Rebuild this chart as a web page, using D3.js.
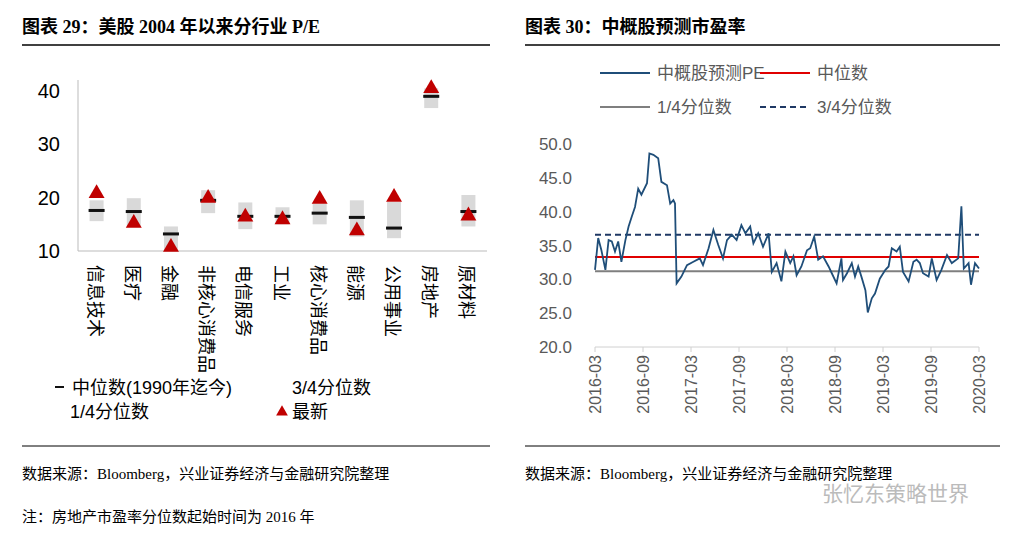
<!DOCTYPE html>
<html><head><meta charset="utf-8">
<script src="https://cdn.jsdelivr.net/npm/d3@7"></script>
<style>body{margin:0;background:#fff}</style>
</head><body><svg id="c" width="1031" height="539"></svg>
<script>
// left chart data
var sectors = ["信息技术","医疗","金融","非核心消费品","电信服务","工业","核心消费品","能源","公用事业","房地产","原材料"];
var median = [17.6,17.4,13.2,19.5,16.5,16.5,17.1,16.3,14.3,39.0,17.4];
var q1 = [15.6,14.5,10.0,17.1,14.1,15.0,15.0,12.7,12.4,36.8,14.6];
var q3 = [19.5,19.9,14.6,21.4,19.1,18.2,18.9,19.5,19.2,40.5,20.5];
var latest = [20.8,15.2,10.7,19.9,16.4,15.9,19.7,13.8,20.1,40.5,16.6];
var leftTicks = [10,20,30,40];

// right chart data (months since 2016-03)
var peMonths = [0,0.4,0.8,1.3,1.7,2.1,2.5,2.9,3.3,3.8,4.2,4.6,5.0,5.4,5.8,6.5,6.8,7.3,7.9,8.3,9.0,9.4,9.8,10.0,10.2,10.8,11.5,12.3,13.1,13.5,14.2,14.8,15.4,16.0,16.5,17.1,17.7,18.3,18.8,19.4,19.8,20.4,21.0,21.7,22.1,22.7,23.3,23.8,24.4,24.8,25.2,25.8,26.5,26.9,27.4,27.9,28.5,29.2,29.6,30.2,30.8,31.0,31.5,32.1,32.5,32.9,33.3,33.8,34.1,34.6,35.0,35.6,36.3,36.7,37.1,37.7,38.1,38.5,39.2,39.8,40.2,40.6,41.0,41.7,42.1,42.7,43.3,44.0,44.6,45.4,45.8,46.1,46.7,47.0,47.5,48.0];
var peValues = [31.4,36.1,34.3,31.4,35.8,35.6,34.1,35.6,32.6,35.8,37.8,39.3,40.7,43.4,42.5,44.2,48.6,48.4,47.9,44.4,43.9,41.2,41.7,41.2,29.4,30.4,32.1,32.6,33.1,32.1,34.6,37.3,35.1,33.1,35.8,36.6,35.8,38.0,36.8,37.8,35.3,36.8,34.8,36.8,31.1,32.4,29.7,34.1,32.4,33.4,30.6,31.9,34.3,34.6,36.3,32.9,33.4,31.9,30.9,29.4,33.1,29.9,30.9,32.4,30.4,31.9,30.4,28.4,25.1,27.2,27.9,30.1,31.4,31.9,34.6,34.1,34.8,31.1,29.7,32.6,32.9,32.4,30.9,30.4,33.1,29.9,31.4,33.6,32.4,33.1,40.8,31.6,32.4,29.2,32.4,31.6];
var peMedian = 33.3, peQ1 = 31.2, peQ3 = 36.6;
var rightTicks = [20,25,30,35,40,45,50];
var dateLabels = ["2016-03","2016-09","2017-03","2017-09","2018-03","2018-09","2019-03","2019-09","2020-03"];

var svg = d3.select("#c");
var serif = "'Liberation Serif','Noto Sans CJK SC',serif";
var sans = "'Liberation Sans','Noto Sans CJK SC',sans-serif";

// titles & frame lines
svg.append("text").attr("x",22).attr("y",33).text("图表 29：美股 2004 年以来分行业 P/E")
  .style("font-family",serif).style("font-weight","bold").style("font-size","18px");
svg.append("text").attr("x",525).attr("y",33).text("图表 30：中概股预测市盈率")
  .style("font-family",serif).style("font-weight","bold").style("font-size","18px");
[[22,490],[525,1000]].forEach(function(s){
  svg.append("line").attr("x1",s[0]).attr("x2",s[1]).attr("y1",45).attr("y2",45).attr("stroke","#000").attr("stroke-width",1.3);
  svg.append("line").attr("x1",s[0]).attr("x2",s[1]).attr("y1",446).attr("y2",446).attr("stroke","#000").attr("stroke-width",1);
});
svg.append("text").attr("x",22).attr("y",479).text("数据来源：Bloomberg，兴业证券经济与金融研究院整理").style("font-family",serif).style("font-size","15px");
svg.append("text").attr("x",22).attr("y",522).text("注：房地产市盈率分位数起始时间为 2016 年").style("font-family",serif).style("font-size","15px");
svg.append("text").attr("x",525).attr("y",479).text("数据来源：Bloomberg，兴业证券经济与金融研究院整理").style("font-family",serif).style("font-size","15px");
svg.append("text").attr("x",822).attr("y",501).text("张忆东策略世界").style("font-family",sans).style("font-size","21px").style("fill","#bbb");

// ---- left chart
var xL = d3.scaleBand().domain(sectors).range([78,487]).paddingInner(0);
var yL = d3.scaleLinear().domain([10,40]).range([251,91]);
var gL = svg.append("g");
gL.append("line").attr("x1",78).attr("x2",78).attr("y1",80).attr("y2",251).attr("stroke","#bbb");
gL.append("line").attr("x1",78).attr("x2",487).attr("y1",251).attr("y2",251).attr("stroke","#bbb");
gL.selectAll(".yt").data(leftTicks).enter().append("text")
  .attr("x",60).attr("y",function(d){return yL(d)+7;}).attr("text-anchor","end")
  .text(function(d){return d;}).style("font-family",sans).style("font-size","20px");
var cx = function(i){return xL(sectors[i]) + xL.bandwidth()/2;};
gL.selectAll(".box").data(sectors).enter().append("rect")
  .attr("x",function(d,i){return cx(i)-7;}).attr("width",14)
  .attr("y",function(d,i){return yL(q3[i]);})
  .attr("height",function(d,i){return yL(q1[i])-yL(q3[i]);}).style("fill","#d9d9d9");
gL.selectAll(".med").data(sectors).enter().append("rect")
  .attr("x",function(d,i){return cx(i)-8;}).attr("width",16)
  .attr("y",function(d,i){return yL(median[i])-1.5;}).attr("height",3).style("fill","#111");
var tri = d3.symbol().type(d3.symbolTriangle).size(110);
gL.selectAll(".tri").data(sectors).enter().append("path").attr("d",tri)
  .attr("transform",function(d,i){return "translate("+cx(i)+","+yL(latest[i])+")";}).style("fill","#c00000");
gL.selectAll(".cat").data(sectors).enter().append("text")
  .attr("transform",function(d,i){return "translate("+(cx(i)-8)+",265) rotate(90)";})
  .text(function(d){return d;}).style("font-family",sans).style("font-size","18px");
// left legend
gL.append("rect").attr("x",55).attr("y",386).attr("width",9).attr("height",2).style("fill","#111");
gL.append("text").attr("x",72).attr("y",394).text("中位数(1990年迄今)").style("font-family",sans).style("font-size","18px");
gL.append("text").attr("x",70).attr("y",418).text("1/4分位数").style("font-family",sans).style("font-size","18px");
gL.append("text").attr("x",292).attr("y",394).text("3/4分位数").style("font-family",sans).style("font-size","18px");
gL.append("path").attr("d",d3.symbol().type(d3.symbolTriangle).size(60)).attr("transform","translate(282,412)").style("fill","#c00000");
gL.append("text").attr("x",292).attr("y",418).text("最新").style("font-family",sans).style("font-size","18px");

// ---- right chart
var xR = d3.scaleLinear().domain([0,48]).range([595,979]);
var yR = d3.scaleLinear().domain([20,50]).range([347,144]);
var gR = svg.append("g");
gR.selectAll(".yt").data(rightTicks).enter().append("text")
  .attr("x",572).attr("y",function(d){return yR(d)+6;}).attr("text-anchor","end")
  .text(function(d){return d.toFixed(1);}).style("font-family",sans).style("font-size","17px").style("fill","#595959");
gR.append("line").attr("x1",595).attr("x2",979).attr("y1",347).attr("y2",347).attr("stroke","#d0d0d0");
gR.selectAll(".xt").data(dateLabels).enter().append("line")
  .attr("x1",function(d,i){return xR(i*6);}).attr("x2",function(d,i){return xR(i*6);})
  .attr("y1",347).attr("y2",352).attr("stroke","#d0d0d0");
gR.selectAll(".xl").data(dateLabels).enter().append("text")
  .attr("transform",function(d,i){return "translate("+(xR(i*6)+6)+",355) rotate(-90)";})
  .attr("text-anchor","end").text(function(d){return d;})
  .style("font-family",sans).style("font-size","16px").style("fill","#595959");
var hl = function(v,color,dash){
  gR.append("line").attr("x1",xR(0)).attr("x2",xR(48)).attr("y1",yR(v)).attr("y2",yR(v))
    .attr("stroke",color).attr("stroke-width",2).attr("stroke-dasharray",dash||null);
};
hl(peQ1,"#7f7f7f"); hl(peMedian,"#e00000"); hl(peQ3,"#1f3864","6,4");
var n = Math.min(peMonths.length, peValues.length);
var pts = d3.range(n).map(function(i){return [peMonths[i],peValues[i]];});
gR.append("path").datum(pts)
  .attr("d",d3.line().x(function(d){return xR(d[0]);}).y(function(d){return yR(d[1]);}))
  .attr("fill","none").attr("stroke","#1f4e79").attr("stroke-width",1.8);
// right legend
var leg = [["中概股预测PE","#1f4e79",null,600,73],["中位数","#e00000",null,760,73],["1/4分位数","#7f7f7f",null,600,107],["3/4分位数","#1f3864","6,4",760,107]];
leg.forEach(function(l){
  gR.append("line").attr("x1",l[3]).attr("x2",l[3]+50).attr("y1",l[4]).attr("y2",l[4])
    .attr("stroke",l[1]).attr("stroke-width",2).attr("stroke-dasharray",l[2]);
  gR.append("text").attr("x",l[3]+57).attr("y",l[4]+6).text(l[0])
    .style("font-family",sans).style("font-size","17px").style("fill","#595959");
});
</script></body></html>
